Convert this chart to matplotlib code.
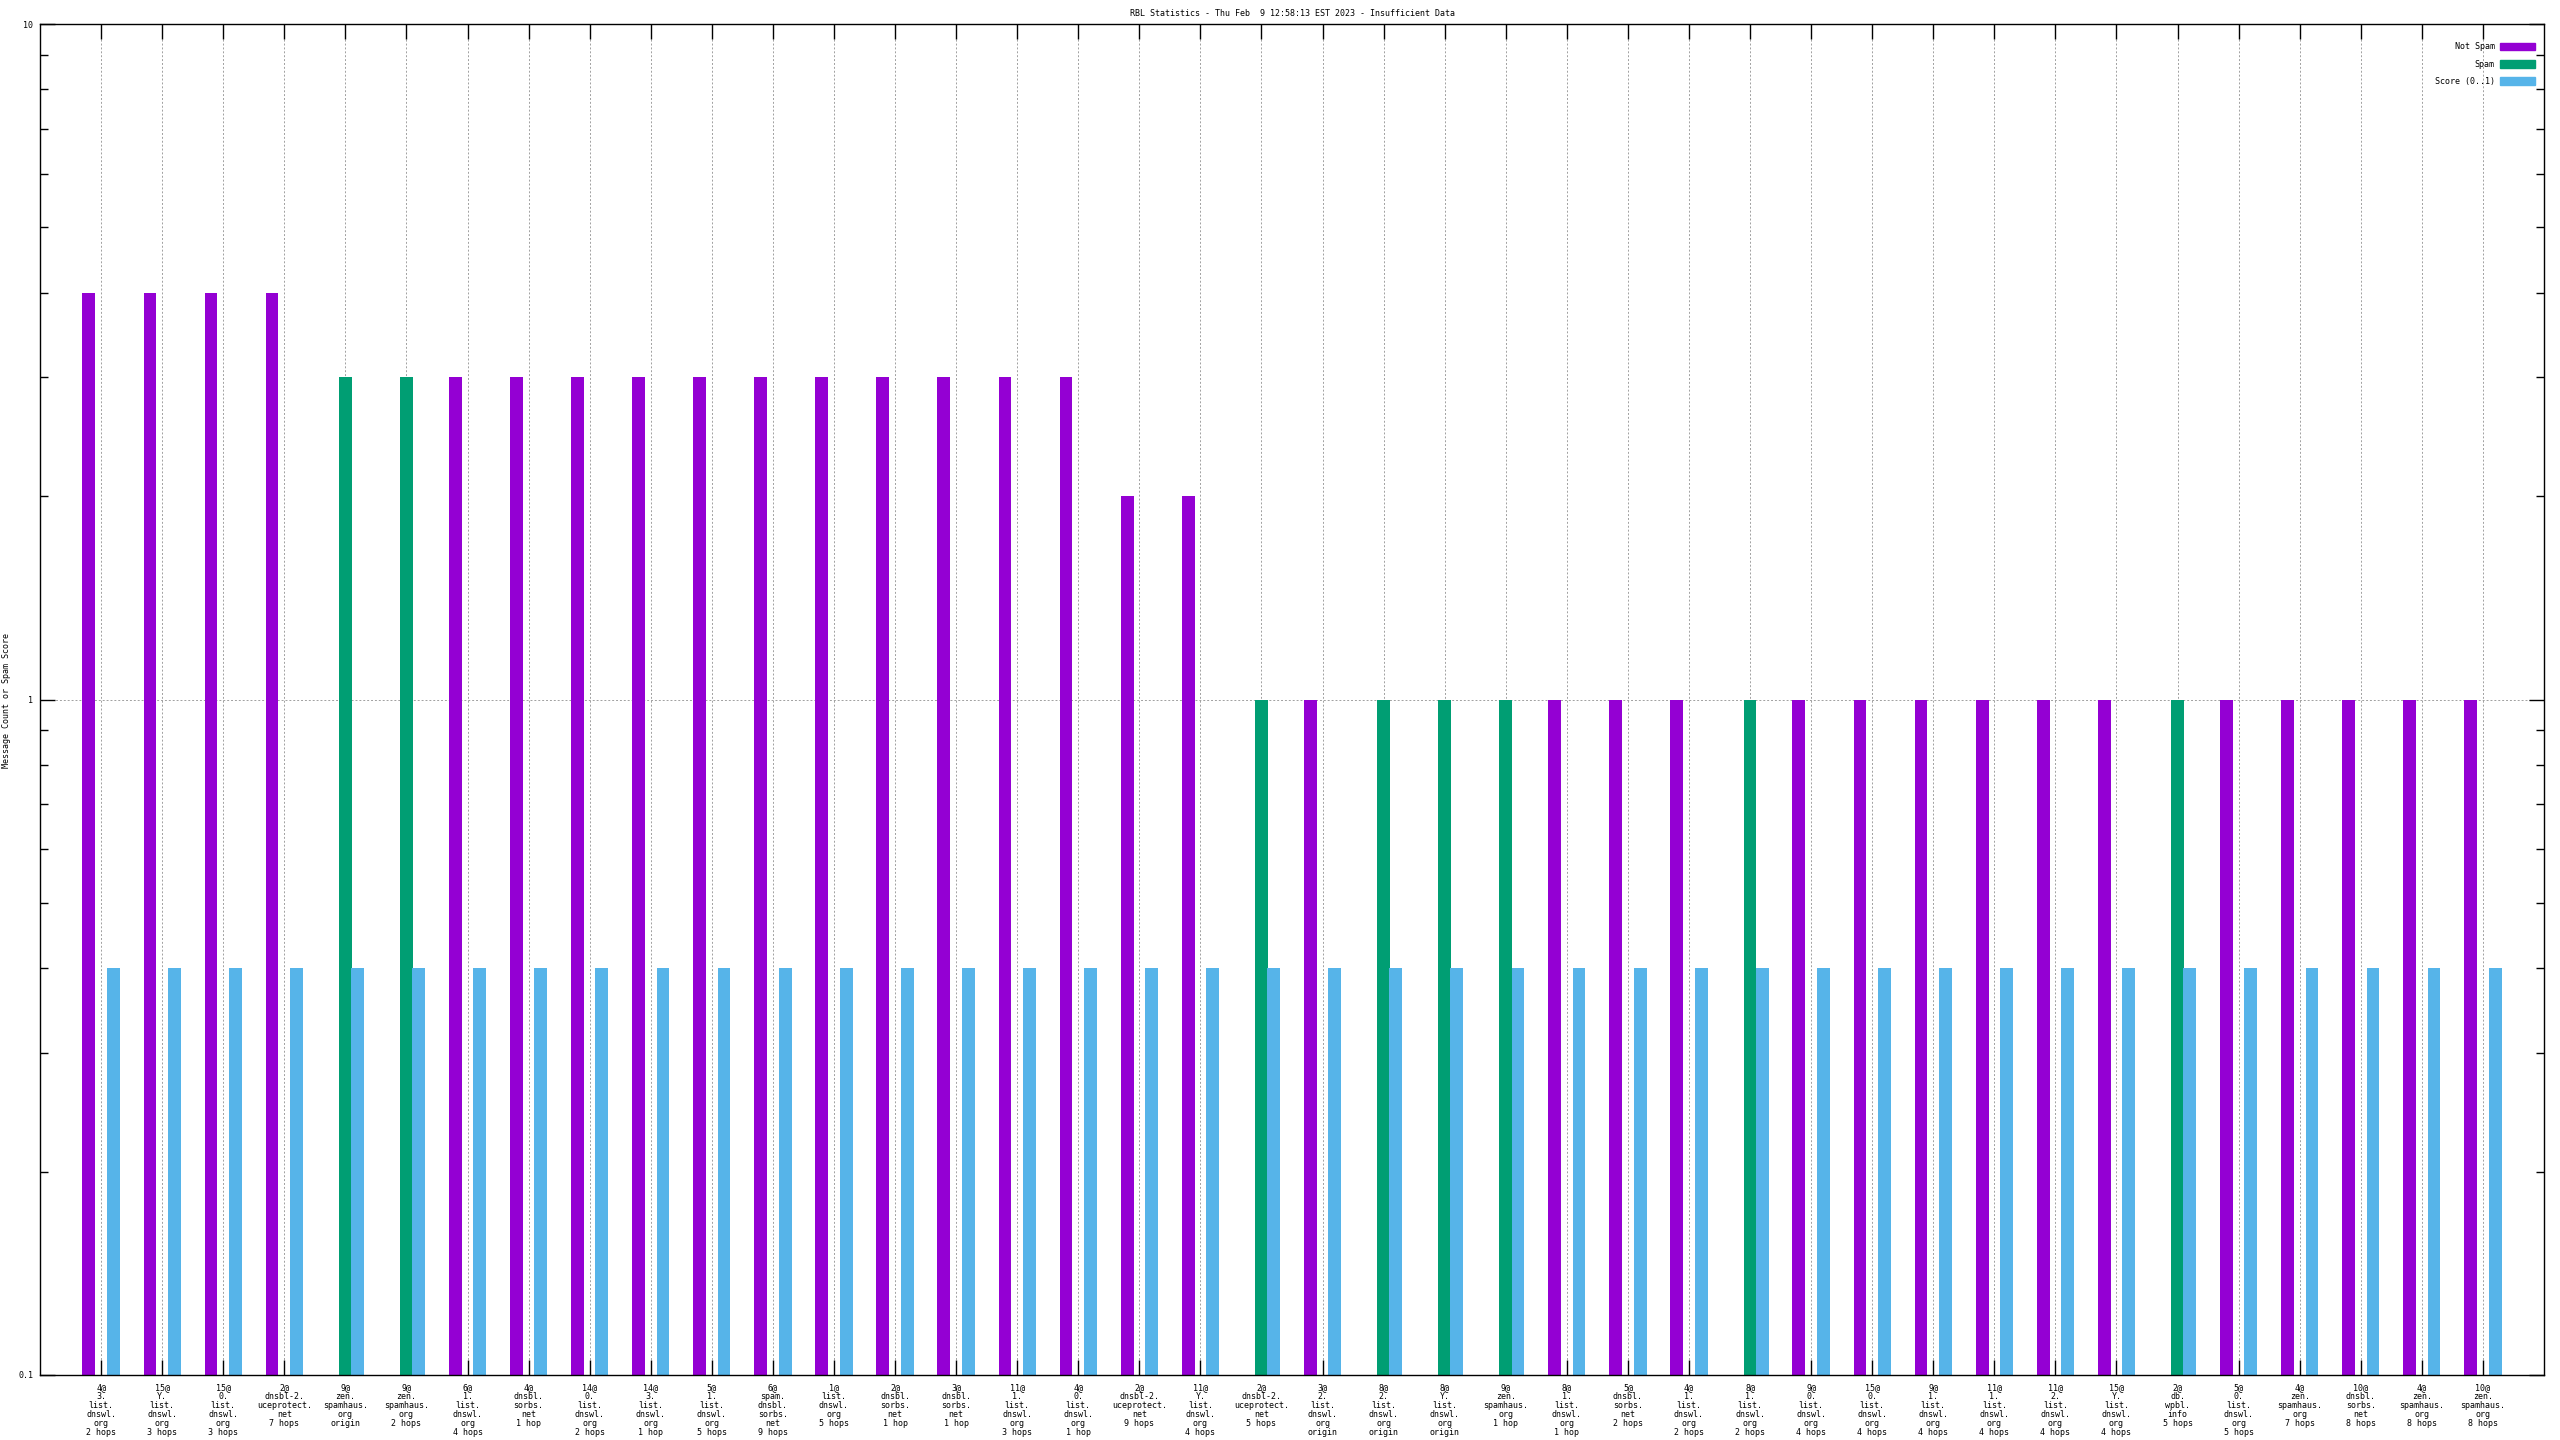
import numpy as np
import matplotlib
matplotlib.use("Agg")
import matplotlib.pyplot as plt
from matplotlib.patches import Patch

# ---- data ----
labels = [
    "4@\n3.\nlist.\ndnswl.\norg\n2 hops",
    "15@\nY.\nlist.\ndnswl.\norg\n3 hops",
    "15@\n0.\nlist.\ndnswl.\norg\n3 hops",
    "2@\ndnsbl-2.\nuceprotect.\nnet\n7 hops",
    "9@\nzen.\nspamhaus.\norg\norigin",
    "9@\nzen.\nspamhaus.\norg\n2 hops",
    "6@\n1.\nlist.\ndnswl.\norg\n4 hops",
    "4@\ndnsbl.\nsorbs.\nnet\n1 hop",
    "14@\n0.\nlist.\ndnswl.\norg\n2 hops",
    "14@\n3.\nlist.\ndnswl.\norg\n1 hop",
    "5@\n1.\nlist.\ndnswl.\norg\n5 hops",
    "6@\nspam.\ndnsbl.\nsorbs.\nnet\n9 hops",
    "1@\nlist.\ndnswl.\norg\n5 hops",
    "2@\ndnsbl.\nsorbs.\nnet\n1 hop",
    "3@\ndnsbl.\nsorbs.\nnet\n1 hop",
    "11@\n1.\nlist.\ndnswl.\norg\n3 hops",
    "4@\n0.\nlist.\ndnswl.\norg\n1 hop",
    "2@\ndnsbl-2.\nuceprotect.\nnet\n9 hops",
    "11@\nY.\nlist.\ndnswl.\norg\n4 hops",
    "2@\ndnsbl-2.\nuceprotect.\nnet\n5 hops",
    "3@\n2.\nlist.\ndnswl.\norg\norigin",
    "8@\n2.\nlist.\ndnswl.\norg\norigin",
    "8@\nY.\nlist.\ndnswl.\norg\norigin",
    "9@\nzen.\nspamhaus.\norg\n1 hop",
    "8@\n1.\nlist.\ndnswl.\norg\n1 hop",
    "5@\ndnsbl.\nsorbs.\nnet\n2 hops",
    "4@\n1.\nlist.\ndnswl.\norg\n2 hops",
    "8@\n1.\nlist.\ndnswl.\norg\n2 hops",
    "9@\n0.\nlist.\ndnswl.\norg\n4 hops",
    "15@\n0.\nlist.\ndnswl.\norg\n4 hops",
    "9@\n1.\nlist.\ndnswl.\norg\n4 hops",
    "11@\n1.\nlist.\ndnswl.\norg\n4 hops",
    "11@\n2.\nlist.\ndnswl.\norg\n4 hops",
    "15@\nY.\nlist.\ndnswl.\norg\n4 hops",
    "2@\ndb.\nwpbl.\ninfo\n5 hops",
    "5@\n0.\nlist.\ndnswl.\norg\n5 hops",
    "4@\nzen.\nspamhaus.\norg\n7 hops",
    "10@\ndnsbl.\nsorbs.\nnet\n8 hops",
    "4@\nzen.\nspamhaus.\norg\n8 hops",
    "10@\nzen.\nspamhaus.\norg\n8 hops",
]
not_spam = [4, 4, 4, 4, 0, 0, 3, 3, 3, 3, 3, 3, 3, 3, 3, 3, 3, 2, 2, 0,
            1, 0, 0, 0, 1, 1, 1, 0, 1, 1, 1, 1, 1, 1, 0, 1, 1, 1, 1, 1]
spam = [0, 0, 0, 0, 3, 3, 0, 0, 0, 0, 0, 0, 0, 0, 0, 0, 0, 0, 0, 1,
        0, 1, 1, 1, 0, 0, 0, 1, 0, 0, 0, 0, 0, 0, 1, 0, 0, 0, 0, 0]
score = [0.4] * 40

title = "RBL Statistics - Thu Feb  9 12:58:13 EST 2023 - Insufficient Data"

# ---- plotting ----
plt.rcParams['font.family'] = ['DejaVu Sans Mono']
plt.rcParams['font.size'] = 6

fig = plt.figure(figsize=(25.6, 14.4), dpi=100)
ax = fig.add_axes([40 / 2560, 1 - 1375 / 1440, 2504 / 2560, 1351 / 1440])

x = np.arange(len(labels))
w = 0.21
ax.set_yscale('log')
ax.set_ylim(0.1, 10)
ax.set_xlim(-1, 40)

ax.bar(x - 0.2, not_spam, w, color='#9400D3', zorder=2)
ax.bar(x, spam, w, color='#009E73', zorder=2)
ax.bar(x + 0.2, score, w, color='#56B4E9', zorder=2)

ax.set_xticks(x)
ax.set_xticklabels(labels, linespacing=1.0)
ax.set_yticks([0.1, 1, 10])
ax.set_yticklabels(['0.1', '1', '10'])

ax.grid(True, which='major', axis='both', color='#a0a0a0',
        linestyle=(0, (2, 2)), linewidth=0.7, zorder=1)
ax.set_axisbelow(True)

ax.tick_params(which='both', direction='in', top=True, right=True, width=1, color='black')
ax.tick_params(which='major', length=10.5, pad=5)
ax.tick_params(which='minor', length=6)
ax.tick_params(axis='x', pad=6)
for s in ax.spines.values():
    s.set_linewidth(1)
    s.set_zorder(3)

ax.set_title(title, fontsize=6, pad=6)
fig.text(7 / 2560, 1 - 700 / 1440, "Message Count or Spam Score", rotation=90,
         ha='center', va='center', fontsize=6)

handles = [Patch(color='#9400D3'), Patch(color='#009E73'), Patch(color='#56B4E9')]
ax.legend(handles, ['Not Spam', 'Spam', 'Score (0..1)'], loc='upper right',
          bbox_to_anchor=(1 - 6 / 2504, 1 - 15 / 1351), borderaxespad=0,
          frameon=False, markerfirst=False, handlelength=4.2, handleheight=1.0,
          handletextpad=0.6, labelspacing=1.0, fontsize=6)

fig.savefig('out.png', dpi=100)
